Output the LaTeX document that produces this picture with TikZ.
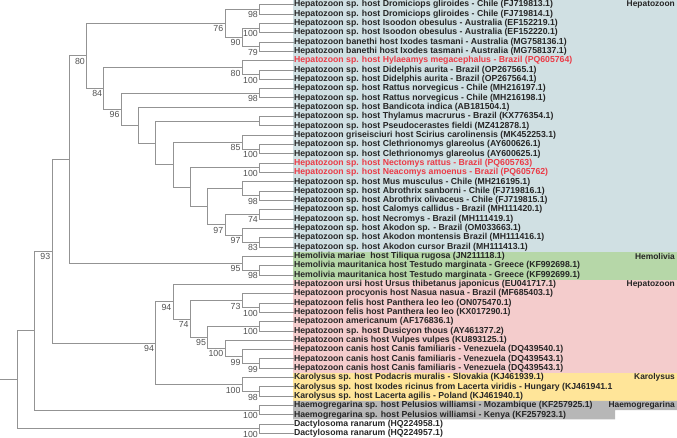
\documentclass[tikz,border=0pt]{standalone}
\usepackage{fontspec}
\setmainfont{Liberation Sans}

\definecolor{treegray}{HTML}{939393}
\definecolor{bootgray}{HTML}{505050}
\definecolor{leafblack}{HTML}{262626}
\definecolor{newred}{HTML}{EB3A46}
\definecolor{hepblue}{HTML}{D0E0E3}
\definecolor{hemgreen}{HTML}{B6D7A8}
\definecolor{heppink}{HTML}{F4CCCC}
\definecolor{karyellow}{HTML}{FFE599}
\definecolor{haegray}{HTML}{B7B7B7}

\begin{document}
\begin{tikzpicture}[
    x=1pt, y=-1pt,
    branch/.style={draw=treegray, line width=0.8pt, to path={-| (\tikztotarget)}},
    leaf/.style={anchor=west, inner sep=0pt, outer sep=0pt, text=leafblack,
                 font=\bfseries\fontsize{8.7}{8.7}\selectfont},
    newleaf/.style={leaf, text=newred},
    boot/.style={anchor=north east, inner sep=0pt, xshift=-1.5pt, yshift=-2.2pt,
                 text=bootgray, font=\fontsize{8.8}{8.8}\selectfont},
    group/.style={anchor=east, inner sep=0pt, text=leafblack,
                  font=\bfseries\fontsize{8.4}{8.4}\selectfont},
]
  \useasboundingbox (0,0) rectangle (677,438);

  % clade bands
  \fill[hepblue]   (293,0)     rectangle (677,251.7);
  \fill[hemgreen]  (293,251.7) rectangle (677,279.6);
  \fill[heppink]   (293,279.6) rectangle (677,372.8);
  \fill[karyellow] (293,372.8) rectangle (677,400.8);
  \fill[haegray]   (293,400.8) -- (677,400.8) -- (677,410.1) -- (615,410.1)
                   -- (615,419.4) -- (293,419.4) -- cycle;

  % internal nodes, each joined to its parent
  \coordinate (stub) at (0,379.74);
  \coordinate (root) at (17.3,379.74)  edge [branch] (stub);
  \coordinate (n35)  at (34.6,330.73)  edge [branch] (root);
  \coordinate (d1)   at (259.5,428.76) edge [branch] (root);
  \coordinate (n93)  at (51.9,251.33)  edge [branch] (n35);
  \coordinate (h1)   at (259.5,410.12) edge [branch] (n35);
  \coordinate (n69)  at (69.2,159.60)  edge [branch] (n93);
  \coordinate (b10)  at (155.7,343.06) edge [branch] (n93);
  \coordinate (n80)  at (86.5,55.86)   edge [branch] (n69);
  \coordinate (n95)  at (242.2,263.33) edge [branch] (n69);
  \coordinate (Z)    at (259.5,270.32) edge [branch] (n95);
  \coordinate (E)    at (224.9,23.34)  edge [branch] (n80);
  \coordinate (n84)  at (103.8,88.39)  edge [branch] (n80);
  \coordinate (A)    at (259.5,9.36)   edge [branch] (E);
  \coordinate (D)    at (242.2,37.32)  edge [branch] (E);
  \coordinate (B)    at (259.5,28.00)  edge [branch] (D);
  \coordinate (C)    at (259.5,46.64)  edge [branch] (D);
  \coordinate (G)    at (242.2,67.61)  edge [branch] (n84);
  \coordinate (F)    at (259.5,74.60)  edge [branch] (G);
  \coordinate (n96)  at (121.1,109.17) edge [branch] (n84);
  \coordinate (H)    at (259.5,93.24)  edge [branch] (n96);
  \coordinate (L)    at (138.4,125.10) edge [branch] (n96);
  \coordinate (M)    at (155.7,142.97) edge [branch] (L);
  \coordinate (I)    at (259.5,121.20) edge [branch] (M);
  \coordinate (N)    at (173.0,164.75) edge [branch] (M);
  \coordinate (K)    at (242.2,142.17) edge [branch] (N);
  \coordinate (J)    at (259.5,149.16) edge [branch] (K);
  \coordinate (O)    at (190.3,187.32) edge [branch] (N);
  \coordinate (P)    at (259.5,167.80) edge [branch] (O);
  \coordinate (Q)    at (207.6,206.83) edge [branch] (O);
  \coordinate (R)    at (242.2,188.77) edge [branch] (Q);
  \coordinate (T)    at (259.5,195.76) edge [branch] (R);
  \coordinate (S)    at (224.9,224.89) edge [branch] (Q);
  \coordinate (W)    at (259.5,214.40) edge [branch] (S);
  \coordinate (Y)    at (242.2,235.37) edge [branch] (S);
  \coordinate (X)    at (259.5,242.36) edge [branch] (Y);
  \coordinate (b9)   at (173.0,301.63) edge [branch] (b10);
  \coordinate (k2)   at (242.2,384.49) edge [branch] (b10);
  \coordinate (k1)   at (259.5,391.48) edge [branch] (k2);
  \coordinate (b8)   at (190.3,318.96) edge [branch] (b9);
  \coordinate (b2)   at (242.2,300.61) edge [branch] (b8);
  \coordinate (b1)   at (259.5,307.60) edge [branch] (b2);
  \coordinate (b7)   at (207.6,337.31) edge [branch] (b8);
  \coordinate (b3)   at (259.5,326.24) edge [branch] (b7);
  \coordinate (b6)   at (224.9,348.38) edge [branch] (b7);
  \coordinate (b5)   at (242.2,356.53) edge [branch] (b6);
  \coordinate (b4)   at (259.5,363.52) edge [branch] (b5);

  % taxa
  \node [leaf]    (l1)  at (294,4.70)   {Hepatozoon sp. host Dromiciops gliroides - Chile (FJ719813.1)} edge [branch] (A);
  \node [leaf]    (l2)  at (294,14.02)  {Hepatozoon sp. host Dromiciops gliroides - Chile (FJ719814.1)} edge [branch] (A);
  \node [leaf]    (l3)  at (294,23.34)  {Hepatozoon sp. host Isoodon obesulus - Australia (EF152219.1)} edge [branch] (B);
  \node [leaf]    (l4)  at (294,32.66)  {Hepatozoon sp. host Isoodon obesulus - Australia (EF152220.1)} edge [branch] (B);
  \node [leaf]    (l5)  at (294,41.98)  {Hepatozoon banethi host Ixodes tasmani - Australia (MG758136.1)} edge [branch] (C);
  \node [leaf]    (l6)  at (294,51.30)  {Hepatozoon banethi host Ixodes tasmani - Australia (MG758137.1)} edge [branch] (C);
  \node [newleaf] (l7)  at (294,60.62)  {Hepatozoon sp. host Hylaeamys megacephalus - Brazil (PQ605764)} edge [branch] (G);
  \node [leaf]    (l8)  at (294,69.94)  {Hepatozoon sp. host Didelphis aurita - Brazil (OP267565.1)} edge [branch] (F);
  \node [leaf]    (l9)  at (294,79.26)  {Hepatozoon sp. host Didelphis aurita - Brazil (OP267564.1)} edge [branch] (F);
  \node [leaf]    (l10) at (294,88.58)  {Hepatozoon sp. host Rattus norvegicus - Chile (MH216197.1)} edge [branch] (H);
  \node [leaf]    (l11) at (294,97.90)  {Hepatozoon sp. host Rattus norvegicus - Chile (MH216198.1)} edge [branch] (H);
  \node [leaf]    (l12) at (294,107.22) {Hepatozoon sp. host Bandicota indica (AB181504.1)} edge [branch] (L);
  \node [leaf]    (l13) at (294,116.54) {Hepatozoon sp. host Thylamus macrurus - Brazil (KX776354.1)} edge [branch] (I);
  \node [leaf]    (l14) at (294,125.86) {Hepatozoon sp. host Pseudocerastes fieldi (MZ412878.1)} edge [branch] (I);
  \node [leaf]    (l15) at (294,135.18) {Hepatozoon griseisciuri host Scirius carolinensis (MK452253.1)} edge [branch] (K);
  \node [leaf]    (l16) at (294,144.50) {Hepatozoon sp. host Clethrionomys glareolus (AY600626.1)} edge [branch] (J);
  \node [leaf]    (l17) at (294,153.82) {Hepatozoon sp. host Clethrionomys glareolus (AY600625.1)} edge [branch] (J);
  \node [newleaf] (l18) at (294,163.14) {Hepatozoon sp. host Nectomys rattus - Brazil (PQ605763)} edge [branch] (P);
  \node [newleaf] (l19) at (294,172.46) {Hepatozoon sp. host Neacomys amoenus - Brazil (PQ605762)} edge [branch] (P);
  \node [leaf]    (l20) at (294,181.78) {Hepatozoon sp. host Mus musculus - Chile (MH216195.1)} edge [branch] (R);
  \node [leaf]    (l21) at (294,191.10) {Hepatozoon sp. host Abrothrix sanborni - Chile (FJ719816.1)} edge [branch] (T);
  \node [leaf]    (l22) at (294,200.42) {Hepatozoon sp. host Abrothrix olivaceus - Chile (FJ719815.1)} edge [branch] (T);
  \node [leaf]    (l23) at (294,209.74) {Hepatozoon sp. host Calomys callidus - Brazil (MH111420.1)} edge [branch] (W);
  \node [leaf]    (l24) at (294,219.06) {Hepatozoon sp. host Necromys - Brazil (MH111419.1)} edge [branch] (W);
  \node [leaf]    (l25) at (294,228.38) {Hepatozoon sp. host Akodon sp. - Brazil (OM033663.1)} edge [branch] (Y);
  \node [leaf]    (l26) at (294,237.70) {Hepatozoon sp. host Akodon montensis Brazil (MH111416.1)} edge [branch] (X);
  \node [leaf]    (l27) at (294,247.02) {Hepatozoon sp. host Akodon cursor Brazil (MH111413.1)} edge [branch] (X);
  \node [leaf]    (l28) at (294,256.34) {Hemolivia mariae\ \ host Tiliqua rugosa (JN211118.1)} edge [branch] (n95);
  \node [leaf]    (l29) at (294,265.66) {Hemolivia mauritanica host Testudo marginata - Greece (KF992698.1)} edge [branch] (Z);
  \node [leaf]    (l30) at (294,274.98) {Hemolivia mauritanica host Testudo marginata - Greece (KF992699.1)} edge [branch] (Z);
  \node [leaf]    (l31) at (294,284.30) {Hepatozoon ursi host Ursus thibetanus japonicus (EU041717.1)} edge [branch] (b9);
  \node [leaf]    (l32) at (294,293.62) {Hepatozoon procyonis host Nasua nasua - Brazil (MF685403.1)} edge [branch] (b2);
  \node [leaf]    (l33) at (294,302.94) {Hepatozoon felis host Panthera leo leo (ON075470.1)} edge [branch] (b1);
  \node [leaf]    (l34) at (294,312.26) {Hepatozoon felis host Panthera leo leo (KX017290.1)} edge [branch] (b1);
  \node [leaf]    (l35) at (294,321.58) {Hepatozoon americanum (AF176836.1)} edge [branch] (b3);
  \node [leaf]    (l36) at (294,330.90) {Hepatozoon sp. host Dusicyon thous (AY461377.2)} edge [branch] (b3);
  \node [leaf]    (l37) at (294,340.22) {Hepatozoon canis host Vulpes vulpes (KU893125.1)} edge [branch] (b6);
  \node [leaf]    (l38) at (294,349.54) {Hepatozoon canis host Canis familiaris - Venezuela (DQ439540.1)} edge [branch] (b5);
  \node [leaf]    (l39) at (294,358.86) {Hepatozoon canis host Canis familiaris - Venezuela (DQ439543.1)} edge [branch] (b4);
  \node [leaf]    (l40) at (294,368.18) {Hepatozoon canis host Canis familiaris - Venezuela (DQ439543.1)} edge [branch] (b4);
  \node [leaf]    (l41) at (294,377.50) {Karolysus sp. host Podacris muralis - Slovakia (KJ461939.1)} edge [branch] (k2);
  \node [leaf]    (l42) at (294,386.82) {Karolysus sp. host Ixodes ricinus from Lacerta viridis - Hungary (KJ461941.1} edge [branch] (k1);
  \node [leaf]    (l43) at (294,396.14) {Karolysus sp. host Lacerta agilis - Poland (KJ461940.1)} edge [branch] (k1);
  \node [leaf]    (l44) at (294,405.46) {Haemogregarina sp. host Pelusios williamsi - Mozambique (KF257925.1)} edge [branch] (h1);
  \node [leaf]    (l45) at (294,414.78) {Haemogregarina sp. host Pelusios williamsi - Kenya (KF257923.1)} edge [branch] (h1);
  \node [leaf]    (l46) at (294,424.10) {Dactylosoma ranarum (HQ224958.1)} edge [branch] (d1);
  \node [leaf]    (l47) at (294,433.42) {Dactylosoma ranarum (HQ224957.1)} edge [branch] (d1);

  % bootstrap values
  \node [boot] (sA)   at (A)   {98};
  \node [boot] (sB)   at (B)   {100};
  \node [boot] (sC)   at (C)   {79};
  \node [boot] (sD)   at (D)   {90};
  \node [boot] (sE)   at (E)   {76};
  \node [boot] (sF)   at (F)   {100};
  \node [boot] (sG)   at (G)   {80};
  \node [boot] (sH)   at (H)   {98};
  \node [boot] (sJ)   at (J)   {100};
  \node [boot] (sK)   at (K)   {85};
  \node [boot] (sP)   at (P)   {100};
  \node [boot] (sT)   at (T)   {98};
  \node [boot] (sW)   at (W)   {74};
  \node [boot] (sX)   at (X)   {83};
  \node [boot] (sY)   at (Y)   {97};
  \node [boot] (sS)   at (S)   {97};
  \node [boot] (s96)  at (n96) {96};
  \node [boot] (s84)  at (n84) {84};
  \node [boot] (s80)  at (n80) {80};
  \node [boot] (sZ)   at (Z)   {98};
  \node [boot] (s95)  at (n95) {95};
  \node [boot] (sb1)  at (b1)  {100};
  \node [boot] (sb2)  at (b2)  {73};
  \node [boot] (sb3)  at (b3)  {100};
  \node [boot] (sb4)  at (b4)  {99};
  \node [boot] (sb5)  at (b5)  {99};
  \node [boot] (sb6)  at (b6)  {100};
  \node [boot] (sb7)  at (b7)  {95};
  \node [boot] (sb8)  at (b8)  {74};
  \node [boot] (sb9)  at (b9)  {94};
  \node [boot] (sk1)  at (k1)  {98};
  \node [boot] (sk2)  at (k2)  {100};
  \node [boot] (sb10) at (b10) {94};
  \node [boot] (s93)  at (n93) {93};
  \node [boot] (sh1)  at (h1)  {100};
  \node [boot] (sd1)  at (d1)  {100};

  % clade names
  \node [group] (gHep)  at (675,4.70)   {Hepatozoon};
  \node [group] (gHem)  at (675,256.34) {Hemolivia};
  \node [group] (gHep2) at (675,284.30) {Hepatozoon};
  \node [group] (gKar)  at (675,377.50) {Karolysus};
  \node [group] (gHae)  at (675,405.46) {Haemogregarina};
\end{tikzpicture}
\end{document}
